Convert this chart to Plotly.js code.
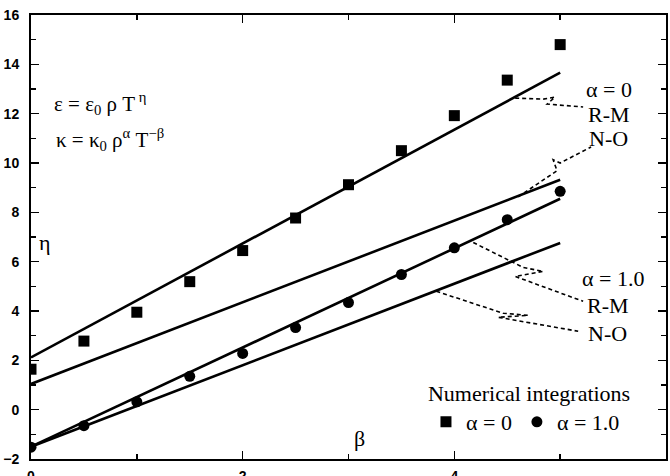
<!DOCTYPE html>
<html>
<head>
<meta charset="utf-8">
<script src="https://cdn.plot.ly/plotly-3.0.1.min.js"></script>
<style>
  html, body { margin: 0; padding: 0; background: #fff; }
  #chart { width: 670px; height: 476px; }
</style>
</head>
<body>
<div id="chart"></div>
<script>
// ---- data ----
const beta = [0, 0.5, 1, 1.5, 2, 2.5, 3, 3.5, 4, 4.5, 5];
const etaNumAlpha0 = [1.64, 2.78, 3.95, 5.19, 6.45, 7.77, 9.12, 10.5, 11.92, 13.36, 14.8];
const etaNumAlpha1 = [-1.52, -0.65, 0.32, 1.35, 2.28, 3.33, 4.34, 5.48, 6.56, 7.70, 8.85];

const fitBeta = [0, 5];
const fitRMAlpha0 = [2.12, 13.66];
const fitNOAlpha0 = [1.04, 9.32];
const fitRMAlpha1 = [-1.5, 8.55];
const fitNOAlpha1 = [-1.5, 6.76];

const xTickVals = [0, 2, 4, 6];
const xTickText = ['0', '2', '4', ''];
const yTickVals = [-2, 0, 2, 4, 6, 8, 10, 12, 14, 16];

// leader lines (dashed, with a break mark) from labels to fit lines
const leaderRM0 = {x: [4.575, 4.84, 4.95, 4.877, 5.217], y: [12.63, 12.59, 12.67, 12.39, 12.27]};
const leaderNO0 = {x: [4.604, 4.97, 4.934, 5.0, 5.292], y: [8.63, 9.685, 10.13, 10.0, 10.65]};
const leaderRM1 = {x: [4.179, 4.651, 4.840, 4.575, 5.217], y: [6.776, 5.766, 5.604, 5.402, 4.392]};
const leaderNO1 = {x: [3.830, 4.462, 4.698, 4.415, 5.170], y: [4.80, 3.907, 3.826, 3.745, 3.18]};

const serif = '"Liberation Serif", "Times New Roman", Times, serif';
const sans = '"Liberation Sans", Arial, Helvetica, sans-serif';

function pathOf(p) {
  return p.x.map((xv, i) => (i === 0 ? 'M' : 'L') + xv + ',' + p.y[i]).join(' ');
}
function leaderShape(p) {
  return {type: 'path', xref: 'x', yref: 'y', path: pathOf(p),
          line: {color: '#000', width: 1.6, dash: '4px,3px'}};
}

const lineStyle = {color: '#000', width: 2.6};

const traces = [
  {x: fitBeta, y: fitRMAlpha0, mode: 'lines', line: lineStyle, showlegend: false, hoverinfo: 'skip'},
  {x: fitBeta, y: fitNOAlpha0, mode: 'lines', line: lineStyle, showlegend: false, hoverinfo: 'skip'},
  {x: fitBeta, y: fitRMAlpha1, mode: 'lines', line: lineStyle, showlegend: false, hoverinfo: 'skip'},
  {x: fitBeta, y: fitNOAlpha1, mode: 'lines', line: lineStyle, showlegend: false, hoverinfo: 'skip'},
  {x: beta, y: etaNumAlpha0, mode: 'markers', name: 'α = 0',
   marker: {symbol: 'square', size: 11, color: '#000'}},
  {x: beta, y: etaNumAlpha1, mode: 'markers', name: 'α = 1.0',
   marker: {symbol: 'circle', size: 11, color: '#000'}}
];

const axisCommon = {
  showgrid: false, zeroline: false,
  showline: true, linecolor: '#000', linewidth: 2,
  mirror: 'ticks', ticks: 'inside', ticklen: 8, tickwidth: 1.5, tickcolor: '#000',
  minor: {ticks: 'inside', ticklen: 5, tickwidth: 1.5, tickcolor: '#000', dtick: 1},
  tickfont: {family: sans, size: 14, color: '#000', weight: 'bold'}
};

const labelFont = {family: serif, size: 22, color: '#000'};

const layout = {
  width: 670, height: 476,
  margin: {l: 31, r: 4, t: 15, b: 17},
  paper_bgcolor: '#fff', plot_bgcolor: '#fff',
  showlegend: true,
  legend: {
    orientation: 'h', x: 0.622, xanchor: 'left', y: 0.195, yanchor: 'top',
    bgcolor: 'rgba(0,0,0,0)', borderwidth: 0,
    font: labelFont,
    title: {text: 'Numerical integrations', side: 'top', font: labelFont},
    itemwidth: 30, tracegroupgap: 0
  },
  xaxis: Object.assign({}, axisCommon, {
    range: [0, 6], tickvals: xTickVals, ticktext: xTickText,
    ticklabelstandoff: 3
  }),
  yaxis: Object.assign({}, axisCommon, {
    range: [-2, 16], tickvals: yTickVals,
    ticklabelstandoff: 7
  }),
  shapes: [leaderShape(leaderRM0), leaderShape(leaderNO0), leaderShape(leaderRM1), leaderShape(leaderNO1)],
  annotations: [
    {x: 0.198, y: 12.43, xref: 'x', yref: 'y', xanchor: 'left', yanchor: 'middle', showarrow: false,
     text: 'ε = ε<sub>0</sub> ρ T<sup> η</sup>', font: {family: serif, size: 21, color: '#000'}},
    {x: 0.217, y: 10.94, xref: 'x', yref: 'y', xanchor: 'left', yanchor: 'middle', showarrow: false,
     text: 'κ = κ<sub>0</sub> ρ<sup>α</sup> T<sup>−β</sup>', font: {family: serif, size: 21, color: '#000'}},
    {x: 0.13, y: 6.77, xref: 'x', yref: 'y', showarrow: false, text: 'η',
     font: {family: serif, size: 22, color: '#000'}},
    {x: 3.10, y: -1.18, xref: 'x', yref: 'y', showarrow: false, text: 'β',
     font: {family: serif, size: 22, color: '#000'}},
    {x: 5.46, y: 13.0, xref: 'x', yref: 'y', showarrow: false, text: 'α = 0', font: labelFont},
    {x: 5.46, y: 11.98, xref: 'x', yref: 'y', showarrow: false, text: 'R-M', font: labelFont},
    {x: 5.46, y: 10.98, xref: 'x', yref: 'y', showarrow: false, text: 'N-O', font: labelFont},
    {x: 5.50, y: 5.32, xref: 'x', yref: 'y', showarrow: false, text: 'α = 1.0', font: labelFont},
    {x: 5.45, y: 4.22, xref: 'x', yref: 'y', showarrow: false, text: 'R-M', font: labelFont},
    {x: 5.45, y: 3.10, xref: 'x', yref: 'y', showarrow: false, text: 'N-O', font: labelFont}
  ]
};

Plotly.newPlot('chart', traces, layout, {displayModeBar: false, responsive: false, staticPlot: true});
</script>
</body>
</html>
